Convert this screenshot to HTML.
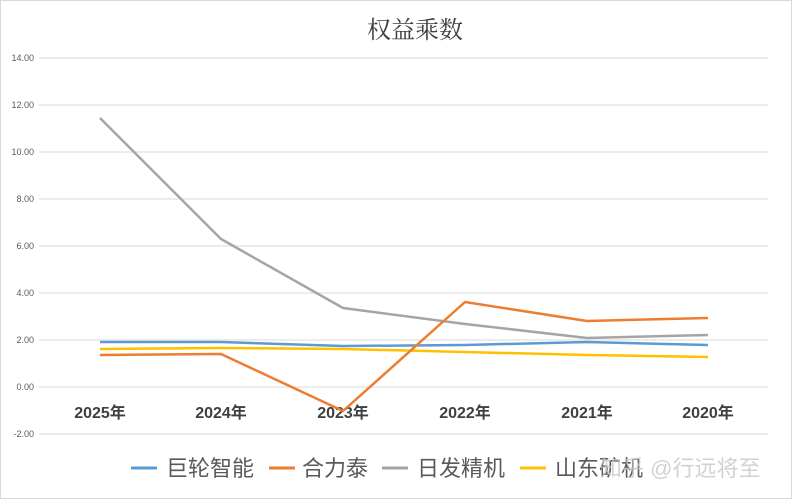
<!DOCTYPE html>
<html><head><meta charset="utf-8"><style>
body{margin:0;background:#fff;}
svg{display:block;font-family:"Liberation Sans","Noto Sans CJK SC",sans-serif;}
</style></head><body>
<svg width="792" height="500" viewBox="0 0 792 500">
<rect x="0.5" y="0.5" width="791" height="498" fill="#fff" stroke="#d9d9d9"/>
<text x="415" y="38" font-size="24" text-anchor="middle" fill="#404040" font-family="'Noto Serif CJK SC','Noto Sans CJK SC',serif">权益乘数</text>
<g stroke="#e6e6e6" stroke-width="1.5">
<line x1="39" x2="768" y1="58" y2="58"/><line x1="39" x2="768" y1="105" y2="105"/>
<line x1="39" x2="768" y1="152" y2="152"/><line x1="39" x2="768" y1="199" y2="199"/>
<line x1="39" x2="768" y1="246" y2="246"/><line x1="39" x2="768" y1="293" y2="293"/>
<line x1="39" x2="768" y1="340" y2="340"/><line x1="39" x2="768" y1="387" y2="387"/>
<line x1="39" x2="768" y1="434" y2="434"/>
</g>
<g font-size="9" fill="#595959" text-anchor="end">
<text x="34" y="61">14.00</text><text x="34" y="108">12.00</text><text x="34" y="155">10.00</text>
<text x="34" y="202">8.00</text><text x="34" y="249">6.00</text><text x="34" y="296">4.00</text>
<text x="34" y="343">2.00</text><text x="34" y="390">0.00</text><text x="34" y="437">-2.00</text>
</g>
<g font-size="16" font-weight="bold" fill="#404040" text-anchor="middle">
<text x="100" y="418">2025年</text><text x="221" y="418">2024年</text><text x="343" y="418">2023年</text>
<text x="465" y="418">2022年</text><text x="587" y="418">2021年</text><text x="708" y="418">2020年</text>
</g>
<g fill="none" stroke-width="2.5" stroke-linejoin="round">
<polyline stroke="#a5a5a5" points="100,118 221,239 343,308 465,324 587,338 708,335"/>
<polyline stroke="#5b9bd5" points="100,342 221,342 343,346 465,345 587,342 708,345"/>
<polyline stroke="#ffc000" points="100,349 221,348 343,349 465,352 587,355 708,357"/>
<polyline stroke="#ed7d31" points="100,355 221,354 343,411 465,302 587,321 708,318"/>
</g>
<g font-size="22" fill="#595959">
<line x1="131" x2="157" y1="468" y2="468" stroke="#5b9bd5" stroke-width="3"/><text x="166" y="476">巨轮智能</text>
<line x1="269" x2="295" y1="468" y2="468" stroke="#ed7d31" stroke-width="3"/><text x="302" y="476">合力泰</text>
<line x1="382" x2="408" y1="468" y2="468" stroke="#a5a5a5" stroke-width="3"/><text x="417" y="476">日发精机</text>
<line x1="520" x2="546" y1="468" y2="468" stroke="#ffc000" stroke-width="3"/><text x="555" y="476">山东矿机</text>
<text x="600" y="476" fill="#c8c8c8" opacity="0.8">知乎 @行远将至</text>
</g>
</svg>
</body></html>
